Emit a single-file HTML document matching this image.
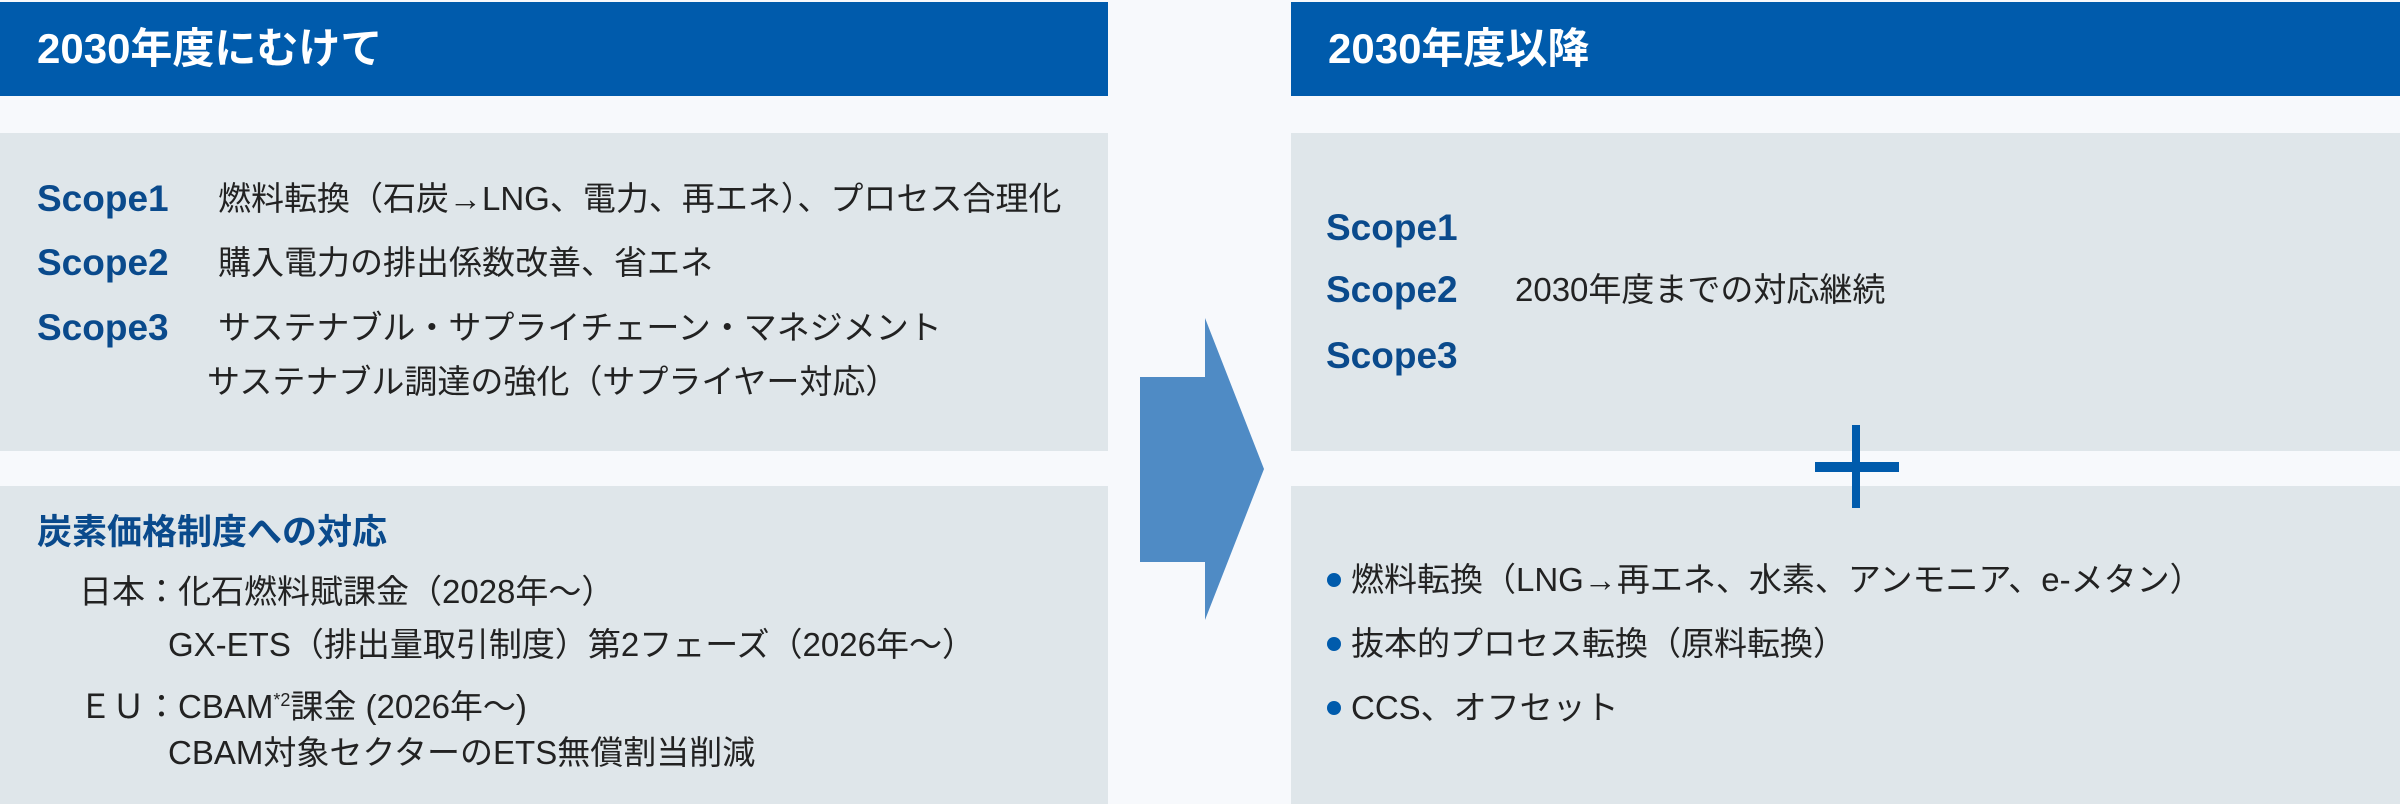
<!DOCTYPE html>
<html><head><meta charset="utf-8"><style>
*{margin:0;padding:0;box-sizing:border-box}
body{width:2400px;height:804px;background:#f7f9fc;position:relative;overflow:hidden;font-family:"Liberation Sans","Noto Sans CJK JP",sans-serif;color:#222}
.a{position:absolute;white-space:nowrap}
.hd{background:#005bac;color:#fff;font-weight:bold;font-size:42px;line-height:94px;padding-left:37px}
.bx{background:#dfe6ea}
.t{font-size:33px;line-height:40px}
.s{color:#0a4a8c;font-weight:bold;font-size:37px;line-height:40px}
.dot{width:14px;height:14px;border-radius:50%;background:#005bac}
</style></head><body>
<div class="a hd" style="left:0;top:2px;width:1108px;height:94px">2030年度にむけて</div>
<div class="a hd" style="left:1291px;top:2px;width:1109px;height:94px">2030年度以降</div>
<div class="a bx" style="left:0;top:133px;width:1108px;height:318px"></div>
<div class="a bx" style="left:0;top:486px;width:1108px;height:318px"></div>
<div class="a bx" style="left:1291px;top:133px;width:1109px;height:318px"></div>
<div class="a bx" style="left:1291px;top:486px;width:1109px;height:318px"></div>
<svg class="a" style="left:0;top:0" width="2400" height="804"><polygon points="1140,377 1205,377 1205,318 1264,469 1205,620 1205,562 1140,562" fill="#4f8bc5"/><rect x="1815" y="462" width="84" height="10" fill="#005bac"/><rect x="1852" y="425" width="8" height="83" fill="#005bac"/></svg>
<div class="a s" style="left:37px;top:179px">Scope1</div>
<div class="a s" style="left:37px;top:243px">Scope2</div>
<div class="a s" style="left:37px;top:308px">Scope3</div>
<div class="a t" style="left:218px;top:179px">燃料転換（石炭→LNG、電力、再エネ）、プロセス合理化</div>
<div class="a t" style="left:218px;top:243px">購入電力の排出係数改善、省エネ</div>
<div class="a t" style="left:218px;top:308px">サステナブル・サプライチェーン・マネジメント</div>
<div class="a t" style="left:207px;top:362px">サステナブル調達の強化（サプライヤー対応）</div>
<div class="a s" style="left:37px;top:513px;font-size:35px">炭素価格制度への対応</div>
<div class="a t" style="left:79px;top:572px">日本：化石燃料賦課金（2028年～）</div>
<div class="a t" style="left:168px;top:625px">GX-ETS（排出量取引制度）第2フェーズ（2026年～）</div>
<div class="a t" style="left:79px;top:680px">ＥＵ：CBAM<sup style="font-size:18px">*2</sup>課金 (2026年～)</div>
<div class="a t" style="left:168px;top:733px">CBAM対象セクターのETS無償割当削減</div>
<div class="a s" style="left:1326px;top:208px">Scope1</div>
<div class="a s" style="left:1326px;top:270px">Scope2</div>
<div class="a s" style="left:1326px;top:336px">Scope3</div>
<div class="a t" style="left:1515px;top:270px">2030年度までの対応継続</div>
<div class="a dot" style="left:1327px;top:573px"></div>
<div class="a dot" style="left:1327px;top:637px"></div>
<div class="a dot" style="left:1327px;top:701px"></div>
<div class="a t" style="left:1351px;top:560px">燃料転換（LNG→再エネ、水素、アンモニア、e-メタン）</div>
<div class="a t" style="left:1351px;top:624px">抜本的プロセス転換（原料転換）</div>
<div class="a t" style="left:1351px;top:688px">CCS、オフセット</div>
</body></html>
